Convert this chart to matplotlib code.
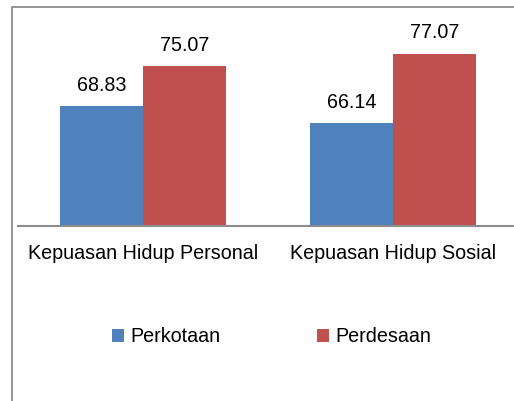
import matplotlib
matplotlib.use("Agg")
import matplotlib.pyplot as plt
from matplotlib.patches import Rectangle
import numpy as np

categories = ["Kepuasan Hidup Personal", "Kepuasan Hidup Sosial"]
series_names = ["Perkotaan", "Perdesaan"]
perkotaan = [68.83, 66.14]
perdesaan = [75.07, 77.07]
colors = ["#4F81BD", "#C0504D"]

plt.rcParams['font.family'] = ['Liberation Sans', 'DejaVu Sans']
FS = 14.2

W, H = 514, 401
fig = plt.figure(figsize=(W / 100, H / 100), dpi=100)

# outer chart frame (extends past the image on right/bottom)
frame = Rectangle((11.5 / W, -0.2), 2.0, 1 - 6.5 / H + 0.2, transform=fig.transFigure,
                  fill=False, edgecolor="#8c8c8c", linewidth=1.3)
fig.patches.append(frame)

left, right = 18 / W, 518 / W
bottom, top = 1 - 225.7 / H, 1 - 34.9 / H
ax = fig.add_axes([left, bottom, right - left, top - bottom])

x = np.arange(len(categories))
bw = 1 / 3
b1 = ax.bar(x - bw / 2, perkotaan, width=bw, color=colors[0], label=series_names[0], bottom=0)
b2 = ax.bar(x + bw / 2, perdesaan, width=bw, color=colors[1], label=series_names[1], bottom=0)
ax.set_xlim(-0.5, len(categories) - 0.5)
ax.set_ylim(50, 80)

for bars, vals in ((b1, perkotaan), (b2, perdesaan)):
    for rect, v in zip(bars, vals):
        ax.annotate(f"{v:.2f}", (rect.get_x() + rect.get_width() / 2, v),
                    xytext=(0, 11), textcoords="offset points",
                    ha="center", va="baseline", fontsize=FS, color="#000000",
                    annotation_clip=False)

for s in ("left", "right", "top"):
    ax.spines[s].set_visible(False)
ax.spines["bottom"].set_color("#8c8c8c")
ax.spines["bottom"].set_linewidth(1.5)
ax.set_yticks([])
ax.set_xticks(x)
ax.set_xticklabels(categories, fontsize=FS)
ax.tick_params(axis="x", length=0, pad=13.5)

fig.legend(handles=[b1, b2], labels=series_names, loc="center",
           bbox_to_anchor=(0.528, 1 - 337 / H), ncol=2, frameon=False,
           fontsize=FS, handlelength=0.62, handleheight=0.62,
           handletextpad=0.3, columnspacing=4.9)

fig.savefig("out.png", dpi=100)
